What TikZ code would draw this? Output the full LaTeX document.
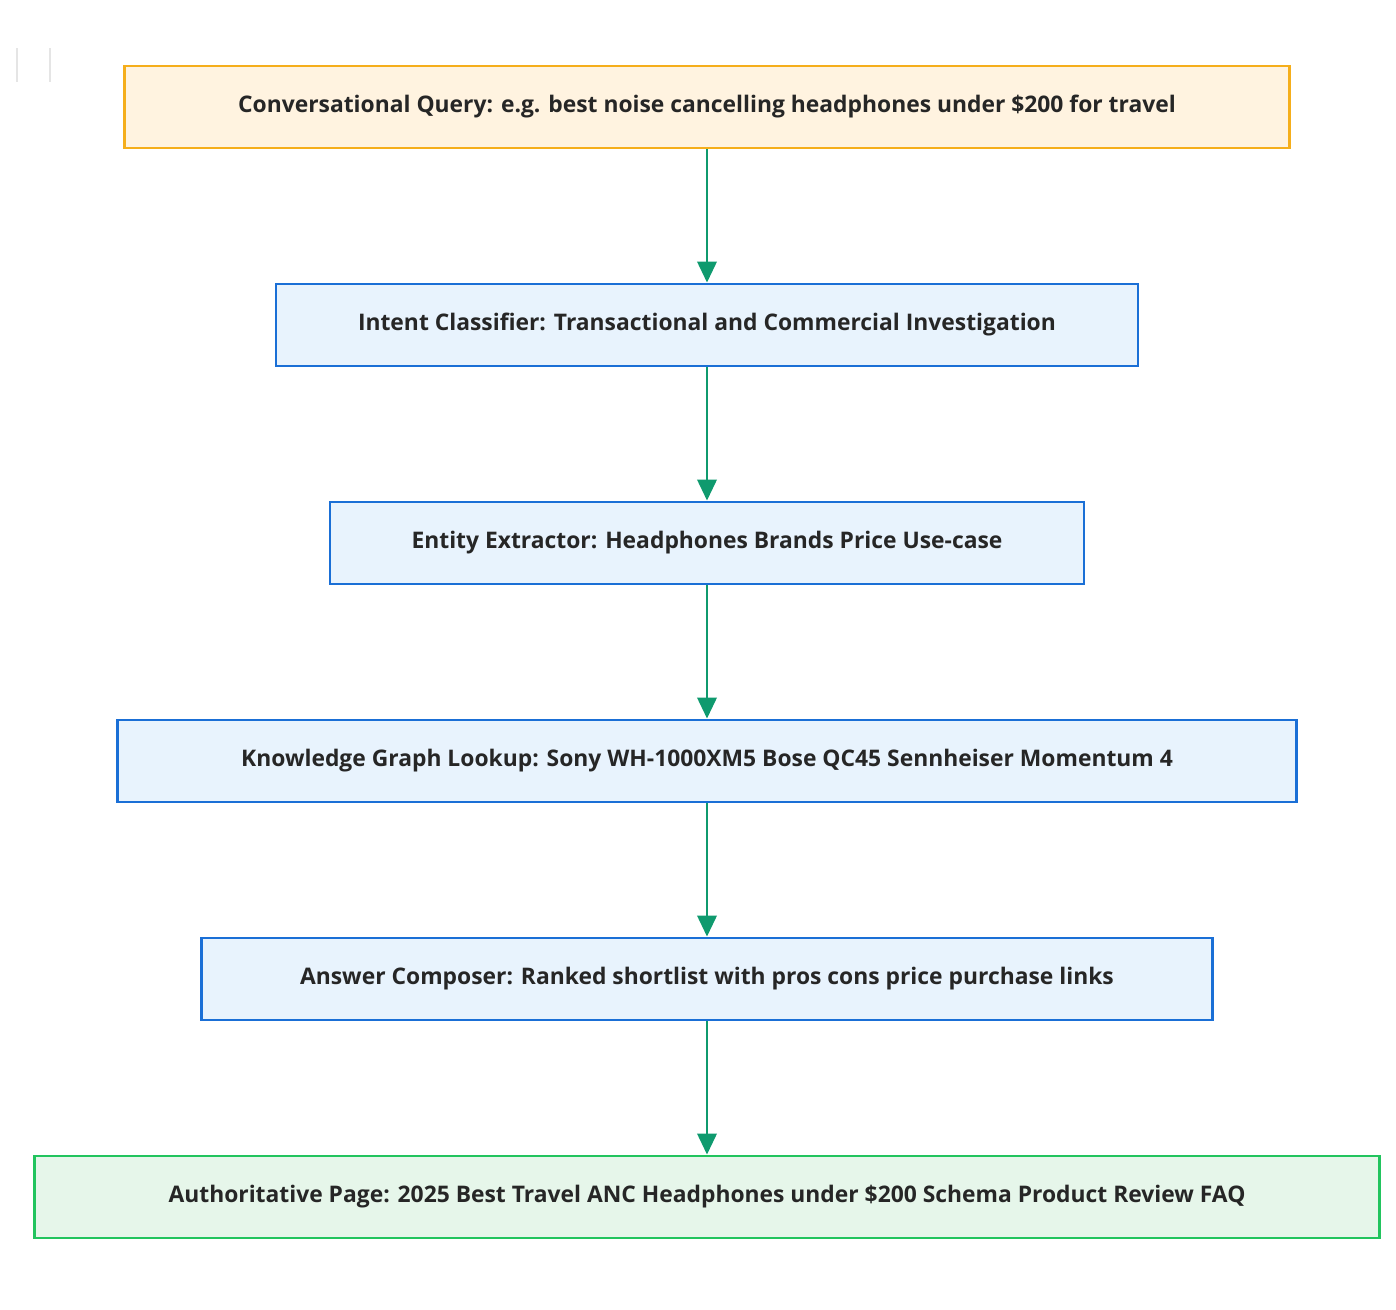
\documentclass[tikz,border=0pt]{standalone}
\usepackage{fontspec}
\setmainfont{Open Sans}
\usetikzlibrary{arrows.meta}
\definecolor{qborder}{HTML}{F5AE1B}
\definecolor{qfill}{HTML}{FFF3E0}
\definecolor{sborder}{HTML}{1A6FD6}
\definecolor{sfill}{HTML}{E8F3FD}
\definecolor{pborder}{HTML}{22C45E}
\definecolor{pfill}{HTML}{E6F6EA}
\definecolor{flow}{HTML}{0F9A6E}
\begin{document}
\begin{tikzpicture}[x=0.02cm,y=-0.02cm,>={Triangle[length=12pt,width=11pt]},
  box/.style={draw,line width=1.6pt,minimum height=1.64cm,inner sep=0pt,font=\fontsize{13}{16}\selectfont\bfseries,text=black!85},
  query box/.style={box,draw=qborder,fill=qfill},
  stage box/.style={box,draw=sborder,fill=sfill},
  page box/.style={box,draw=pborder,fill=pfill},
  flow line/.style={->,draw=flow,line width=1.6pt}]
  \useasboundingbox (0,0) rectangle (1396,1310);
  \draw[black!10,line width=0.8pt] (17,48) -- (17,82) (50,48) -- (50,82);
  \node[query box,minimum width=23.32cm] (query) at (707,107) {Conversational Query: e.g. best noise cancelling headphones under \$200 for travel};
  \node[stage box,minimum width=17.24cm] (intent) at (707,325) {Intent Classifier: Transactional and Commercial Investigation};
  \node[stage box,minimum width=15.08cm] (entity) at (707,543) {Entity Extractor: Headphones Brands Price Use-case};
  \node[stage box,minimum width=23.6cm] (graph) at (707,761) {Knowledge Graph Lookup: Sony WH-1000XM5 Bose QC45 Sennheiser Momentum 4};
  \node[stage box,minimum width=20.22cm] (answer) at (707,979) {Answer Composer: Ranked shortlist with pros cons price purchase links};
  \node[page box,minimum width=26.92cm] (page) at (707,1197) {Authoritative Page: 2025 Best Travel ANC Headphones under \$200 Schema Product Review FAQ};
  \foreach \a/\b in {query/intent,intent/entity,entity/graph,graph/answer,answer/page}
    \draw[flow line] (\a) -- (\b);
\end{tikzpicture}
\end{document}
